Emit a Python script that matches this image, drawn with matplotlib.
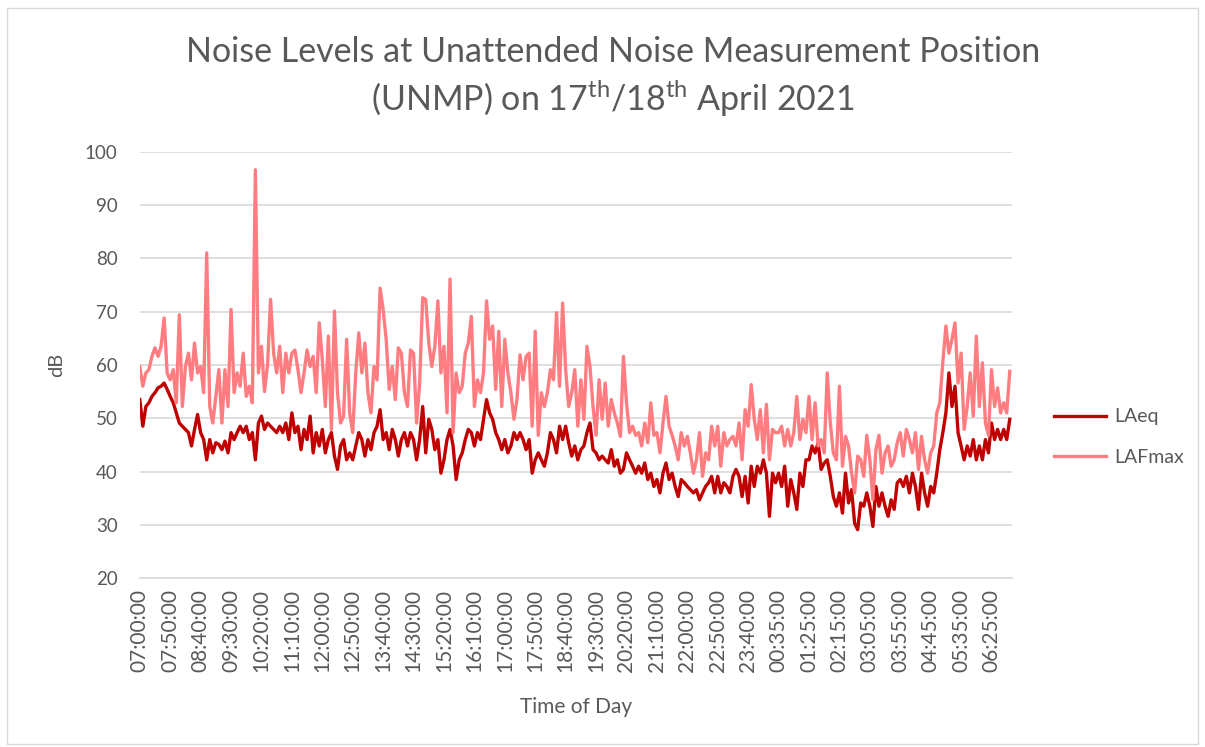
import matplotlib
matplotlib.use("Agg")
import matplotlib.pyplot as plt
from matplotlib.patches import Rectangle
import numpy as np

# 5-minute samples, one row per 50-minute tick interval
laeq = [
    53.5, 48.5, 52.2, 52.9, 54.1, 54.8, 55.7, 56.0, 56.6, 55.4,
    54.1, 52.9, 51.0, 49.1, 48.5, 47.9, 47.3, 44.8, 47.9, 50.7,
    47.3, 46.0, 42.2, 46.0, 43.5, 45.4, 45.1, 44.1, 45.7, 43.5,
    47.3, 46.0, 47.3, 48.5, 47.3, 48.5, 46.0, 47.3, 42.2, 49.1,
    50.4, 47.9, 49.1, 48.5, 47.9, 47.3, 48.5, 47.3, 49.1, 46.0,
    51.0, 47.3, 48.5, 44.1, 47.9, 46.0, 50.4, 43.5, 47.3, 44.8,
    47.9, 43.5, 46.0, 47.3, 42.9, 40.4, 44.8, 46.0, 42.2, 43.5,
    42.2, 44.8, 47.3, 46.0, 42.9, 46.0, 44.1, 47.3, 48.5, 51.6,
    46.0, 47.3, 44.1, 47.9, 46.0, 42.9, 46.0, 47.3, 44.8, 47.3,
    46.0, 42.2, 46.0, 52.2, 43.5, 49.8, 47.9, 44.1, 46.0, 39.7,
    42.2, 46.0, 47.9, 44.8, 38.5, 42.2, 43.5, 46.0, 47.9, 47.3,
    44.8, 47.3, 46.0, 49.8, 53.5, 51.0, 49.8, 47.3, 46.0, 44.1,
    46.0, 43.5, 44.8, 47.3, 46.0, 47.3, 46.0, 44.1, 46.0, 39.7,
    42.2, 43.5, 42.2, 41.0, 43.5, 47.3, 46.0, 43.5, 48.5, 46.0,
    48.5, 45.4, 42.9, 44.8, 42.2, 44.1, 44.8, 47.3, 49.1, 44.1,
    43.5, 42.2, 42.9, 42.2, 41.6, 44.1, 41.0, 42.2, 39.7, 40.4,
    43.5, 42.2, 41.0, 39.7, 41.0, 39.7, 41.6, 38.5, 39.7, 37.2,
    38.5, 36.0, 39.7, 41.6, 38.5, 39.7, 37.2, 35.3, 38.5, 37.9,
    37.2, 36.6, 36.0, 36.6, 34.7, 36.0, 37.2, 37.9, 39.1, 36.0,
    39.1, 36.0, 37.9, 37.2, 36.0, 39.1, 40.4, 39.1, 35.3, 39.1,
    34.1, 41.0, 37.2, 41.0, 39.7, 42.2, 39.7, 31.6, 39.7, 37.9,
    39.7, 37.2, 41.0, 33.5, 38.5, 36.0, 32.9, 39.7, 37.2, 42.2,
    42.2, 44.8, 43.5, 45.4, 40.4, 41.6, 42.2, 39.1, 35.3, 33.5,
    36.0, 32.2, 39.7, 34.1, 36.6, 30.3, 29.1, 34.1, 33.5, 36.0,
    33.5, 29.7, 37.2, 33.5, 36.0, 33.5, 31.6, 34.7, 32.9, 37.9,
    38.5, 37.2, 39.1, 36.0, 39.7, 37.2, 32.9, 39.7, 36.0, 33.5,
    37.2, 36.0, 39.7, 44.1, 47.3, 51.0, 58.5, 52.2, 56.0, 47.3,
    44.8, 42.2, 44.8, 42.9, 46.0, 42.2, 44.8, 42.2, 46.0, 43.5,
    49.1, 46.0, 47.9, 46.0, 47.9, 46.0, 49.8,
]
lafmax = [
    59.7, 56.0, 58.5, 59.1, 61.6, 63.2, 61.6, 63.5, 68.8, 58.5,
    57.2, 59.1, 52.9, 69.4, 52.2, 59.7, 62.2, 57.2, 64.1, 58.5,
    59.7, 54.8, 81.0, 52.2, 49.1, 54.1, 59.1, 49.1, 59.1, 52.2,
    70.4, 54.8, 58.5, 56.0, 62.2, 54.1, 56.0, 52.9, 96.6, 58.5,
    63.5, 55.0, 60.0, 72.3, 62.2, 58.5, 63.5, 54.8, 62.2, 58.5,
    62.2, 62.8, 59.1, 54.8, 58.5, 62.8, 59.7, 61.6, 54.8, 67.9,
    61.0, 52.2, 65.4, 47.9, 70.1, 54.8, 49.1, 50.4, 64.8, 51.0,
    47.3, 58.5, 66.0, 58.5, 64.1, 54.8, 51.0, 59.7, 57.2, 74.4,
    70.4, 64.8, 55.4, 59.7, 53.5, 63.2, 62.2, 54.8, 52.2, 62.8,
    62.2, 49.1, 56.6, 72.6, 72.3, 64.1, 59.7, 63.5, 72.0, 58.5,
    63.5, 51.0, 76.1, 47.3, 58.5, 54.8, 56.0, 62.2, 64.1, 69.1,
    52.2, 57.2, 54.8, 58.5, 72.0, 64.8, 67.3, 55.4, 66.3, 52.2,
    64.8, 58.5, 54.8, 49.8, 53.5, 61.9, 57.2, 61.6, 62.2, 48.5,
    66.3, 46.8, 54.8, 52.2, 54.8, 59.1, 57.2, 69.8, 56.0, 71.6,
    59.1, 52.2, 54.8, 59.1, 48.5, 57.2, 49.8, 63.5, 59.7, 52.2,
    46.8, 57.2, 49.8, 56.6, 48.5, 53.5, 51.0, 49.1, 46.6, 61.6,
    52.9, 47.3, 48.5, 46.8, 47.3, 44.8, 49.1, 45.4, 52.9, 46.8,
    47.3, 43.5, 49.1, 54.1, 48.5, 46.8, 44.8, 42.2, 47.3, 44.8,
    46.6, 43.5, 39.7, 42.2, 47.3, 39.1, 43.5, 42.2, 48.5, 44.8,
    48.5, 41.0, 47.3, 44.8, 46.0, 46.6, 44.8, 49.1, 42.2, 51.6,
    48.5, 56.3, 49.8, 46.0, 51.6, 43.5, 52.6, 42.2, 47.9, 47.3,
    47.3, 48.5, 44.8, 47.9, 44.8, 47.3, 54.1, 46.0, 49.8, 47.3,
    54.1, 46.0, 52.9, 44.8, 46.0, 43.5, 58.5, 49.1, 43.5, 42.2,
    56.0, 41.0, 46.6, 44.8, 39.7, 36.0, 42.9, 42.2, 39.1, 46.8,
    42.2, 34.7, 44.1, 46.8, 39.7, 43.5, 44.8, 41.0, 42.2, 45.4,
    47.3, 42.9, 47.9, 46.0, 43.5, 47.3, 40.4, 46.6, 42.2, 39.7,
    43.5, 44.8, 51.0, 52.9, 60.6, 67.3, 62.2, 64.8, 67.9, 56.6,
    62.2, 47.9, 52.2, 58.5, 50.4, 65.4, 52.2, 60.4, 49.1, 46.8,
    59.1, 52.2, 55.7, 51.0, 52.9, 51.0, 58.8,
]
tick_labels = [
    "07:00:00", "07:50:00", "08:40:00", "09:30:00", "10:20:00", "11:10:00",
    "12:00:00", "12:50:00", "13:40:00", "14:30:00", "15:20:00", "16:10:00",
    "17:00:00", "17:50:00", "18:40:00", "19:30:00", "20:20:00", "21:10:00",
    "22:00:00", "22:50:00", "23:40:00", "00:35:00", "01:25:00", "02:15:00",
    "03:05:00", "03:55:00", "04:45:00", "05:35:00", "06:25:00",
]

n_points = 1435          # one-minute categories on the axis
step = 5                 # samples above are every 5th category
tick_every = 50

plt.rcParams["font.family"] = ["Lato", "DejaVu Sans"]
grey = "#595959"

fig = plt.figure(figsize=(12.05, 7.47), dpi=100)
ax = fig.add_axes([0.116, 0.226, 0.724, 0.571])

x = np.arange(len(laeq)) * step
ax.plot(x, laeq, color="#c00000", lw=2.4, label="LAeq", zorder=3)
ax.plot(x, lafmax, color="#ff7c80", lw=2.4, label="LAFmax", zorder=4)

ax.set_xlim(0, n_points - 1)
ax.set_ylim(20, 100)
ax.set_yticks(range(20, 101, 10))
ax.set_xticks(np.arange(len(tick_labels)) * tick_every)
ax.set_xticklabels(tick_labels, rotation=90)
ax.tick_params(axis="both", length=0, colors=grey)
ax.tick_params(axis="y", pad=16, labelsize=13.5)
ax.tick_params(axis="x", pad=8, labelsize=15)
ax.grid(axis="y", color="#d9d9d9", lw=1.2)
ax.set_axisbelow(True)
for side in ("top", "right", "left"):
    ax.spines[side].set_visible(False)
ax.spines["bottom"].set_color("#d9d9d9")
ax.spines["bottom"].set_linewidth(1.2)

ax.set_ylabel("dB", fontsize=14.5, color=grey, labelpad=14)
ax.set_xlabel("Time of Day", fontsize=15, color=grey, labelpad=18)

fig.text(0.5085, 0.93, "Noise Levels at Unattended Noise Measurement Position",
         ha="center", va="center", fontsize=24.5, color=grey)
fig.text(0.5085, 0.869, "(UNMP) on 17$^{\\mathregular{th}}$/18$^{\\mathregular{th}}$ April 2021",
         ha="center", va="center", fontsize=24.5, color=grey)

leg = fig.legend(loc="center left", bbox_to_anchor=(0.86, 0.415), frameon=False,
                 fontsize=14, handlelength=2.7, labelspacing=1.2, handletextpad=0.4)
for text in leg.get_texts():
    text.set_color(grey)

fig.patches.append(Rectangle((0.006, 0.004), 0.988, 0.985, transform=fig.transFigure,
                             fill=False, edgecolor="#d9d9d9", lw=1))

fig.savefig("out.png", dpi=100)
